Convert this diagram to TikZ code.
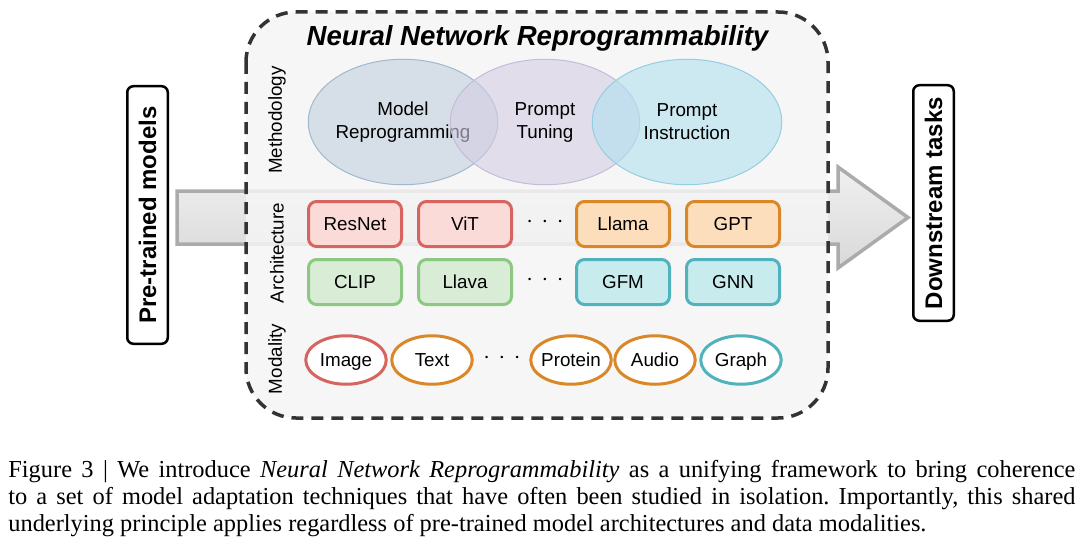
\documentclass[tikz,border=0pt]{standalone}
\usepackage{fontspec}
\setmainfont{Liberation Serif}
\setsansfont{Liberation Sans}
\usetikzlibrary{shapes.geometric}

\definecolor{frameedge}{HTML}{333333}
\definecolor{framefill}{HTML}{F5F5F5}
\definecolor{arrowedge}{HTML}{ABABAB}
\definecolor{reprogfill}{RGB}{193,208,220}
\definecolor{reprogedge}{RGB}{160,185,205}
\definecolor{tuningfill}{RGB}{212,205,228}
\definecolor{tuningedge}{RGB}{197,188,217}
\definecolor{instructfill}{RGB}{177,225,240}
\definecolor{instructedge}{RGB}{150,205,224}
\definecolor{redfill}{RGB}{250,219,216}
\definecolor{rededge}{RGB}{215,100,95}
\definecolor{orangefill}{RGB}{252,222,188}
\definecolor{orangeedge}{RGB}{218,135,40}
\definecolor{greenfill}{RGB}{216,236,214}
\definecolor{greenedge}{RGB}{140,200,130}
\definecolor{tealfill}{RGB}{200,236,238}
\definecolor{tealedge}{RGB}{80,178,188}

\tikzset{
    frame/.style={draw=frameedge, line width=1.75pt, dash pattern=on 6pt off 4pt, rounded corners=25pt, fill=framefill, fill opacity=0.85},
    flowarrow/.style={draw=arrowedge, line width=1.75pt, top color=white!94!black, bottom color=white!85!black},
    titletext/.style={font=\sffamily\bfseries\itshape\fontsize{13.8}{16}\selectfont},
    rowlabel/.style={rotate=90, inner sep=0pt, font=\sffamily\fontsize{9.4}{11}\selectfont},
    method/.style={ellipse, line width=0.5pt, fill opacity=0.6, text opacity=1, minimum width=94.75pt, minimum height=62.75pt, inner sep=0pt, inner xsep=-2pt, align=center, font=\sffamily\fontsize{9.4}{11.5}\selectfont},
    archbox/.style={draw, rounded corners=4pt, line width=1.5pt, minimum width=46.5pt, minimum height=22.5pt, inner sep=0pt, text height=6.8pt, text depth=0pt, font=\sffamily\fontsize{9.4}{11}\selectfont},
    modbubble/.style={ellipse, draw, line width=1.5pt, fill=white, minimum width=40.25pt, minimum height=24.25pt, inner sep=0pt, inner xsep=-2pt, text height=6.8pt, text depth=0pt, font=\sffamily\fontsize{9.4}{11}\selectfont},
    gapdots/.style={inner sep=0pt, font=\fontsize{12}{14}\selectfont},
    endbox/.style={draw, rotate=90, rounded corners=3pt, line width=1.25pt, minimum height=20.25pt, inner sep=0pt, font=\sffamily\bfseries\fontsize{12}{14}\selectfont},
    caption/.style={inner sep=0pt, text width=533.5pt, align=justify, font=\frenchspacing\fontsize{12.2}{13.5}\selectfont}
}

\begin{document}
\begin{tikzpicture}[x=0.5pt, y=-0.5pt]
    \useasboundingbox (0,0) rectangle (1080,551);

    % Pipeline arrow
    \draw[flowarrow] (177,191) -- (838,191) -- (838,167) -- (908,217.5) -- (838,268) -- (838,244) -- (177,244) -- cycle;

    % Framework
    \draw[frame] (246,12) rectangle (828,418);
    \node[titletext, anchor=base] (title) at (537.5,46) {Neural Network Reprogrammability};

    % Row labels
    \node[rowlabel] (methLabel) at (277,120) {Methodology};
    \node[rowlabel] (archLabel) at (277,253) {Architecture};
    \node[rowlabel] (modLabel) at (277,359) {Modality};

    % Methodology
    \node[method, fill=reprogfill, draw=reprogedge] (reprog) at (403,122) {Model\\Reprogramming};
    \node[method, fill=tuningfill, draw=tuningedge] (tuning) at (545,122) {Prompt\\Tuning};
    \node[method, fill=instructfill, draw=instructedge] (instruct) at (687,122) {Prompt\\Instruction};

    % Architecture
    \node[archbox, fill=redfill, draw=rededge] (resnet) at (355,224) {ResNet};
    \node[archbox, fill=redfill, draw=rededge] (vit) at (465,224) {ViT};
    \node[gapdots] (archDotsA) at (545,222) {${\cdot}\hspace{4.3pt}{\cdot}\hspace{4.3pt}{\cdot}$};
    \node[archbox, fill=orangefill, draw=orangeedge] (llama) at (623,224) {Llama};
    \node[archbox, fill=orangefill, draw=orangeedge] (gpt) at (733,224) {GPT};

    \node[archbox, fill=greenfill, draw=greenedge] (clip) at (355,282) {CLIP};
    \node[archbox, fill=greenfill, draw=greenedge] (llava) at (465,282) {Llava};
    \node[gapdots] (archDotsB) at (545,280) {${\cdot}\hspace{4.3pt}{\cdot}\hspace{4.3pt}{\cdot}$};
    \node[archbox, fill=tealfill, draw=tealedge] (gfm) at (623,282) {GFM};
    \node[archbox, fill=tealfill, draw=tealedge] (gnn) at (733,282) {GNN};

    % Modality
    \node[modbubble, draw=rededge] (image) at (346,360) {Image};
    \node[modbubble, draw=orangeedge] (textmod) at (432,360) {Text};
    \node[gapdots] (modDots) at (502,358) {${\cdot}\hspace{4.3pt}{\cdot}\hspace{4.3pt}{\cdot}$};
    \node[modbubble, draw=orangeedge] (protein) at (571,360) {Protein};
    \node[modbubble, draw=orangeedge] (audio) at (655,360) {Audio};
    \node[modbubble, draw=tealedge] (graph) at (741,360) {Graph};

    % Ends
    \node[endbox, minimum width=128.75pt] (pretrained) at (147.5,215) {Pre-trained models};
    \node[endbox, minimum width=117.75pt] (downstream) at (933.5,203) {Downstream tasks};

    % Caption
    \node[caption, anchor=north west] (figcaption) at (8,460) {Figure 3 | We introduce \textit{Neural Network Reprogrammability} as a unifying framework to bring coherence\linebreak to a set of model adaptation techniques that have often been studied in isolation. Importantly, this shared\linebreak underlying principle applies regardless of pre-trained model architectures and data modalities.};
\end{tikzpicture}
\end{document}
